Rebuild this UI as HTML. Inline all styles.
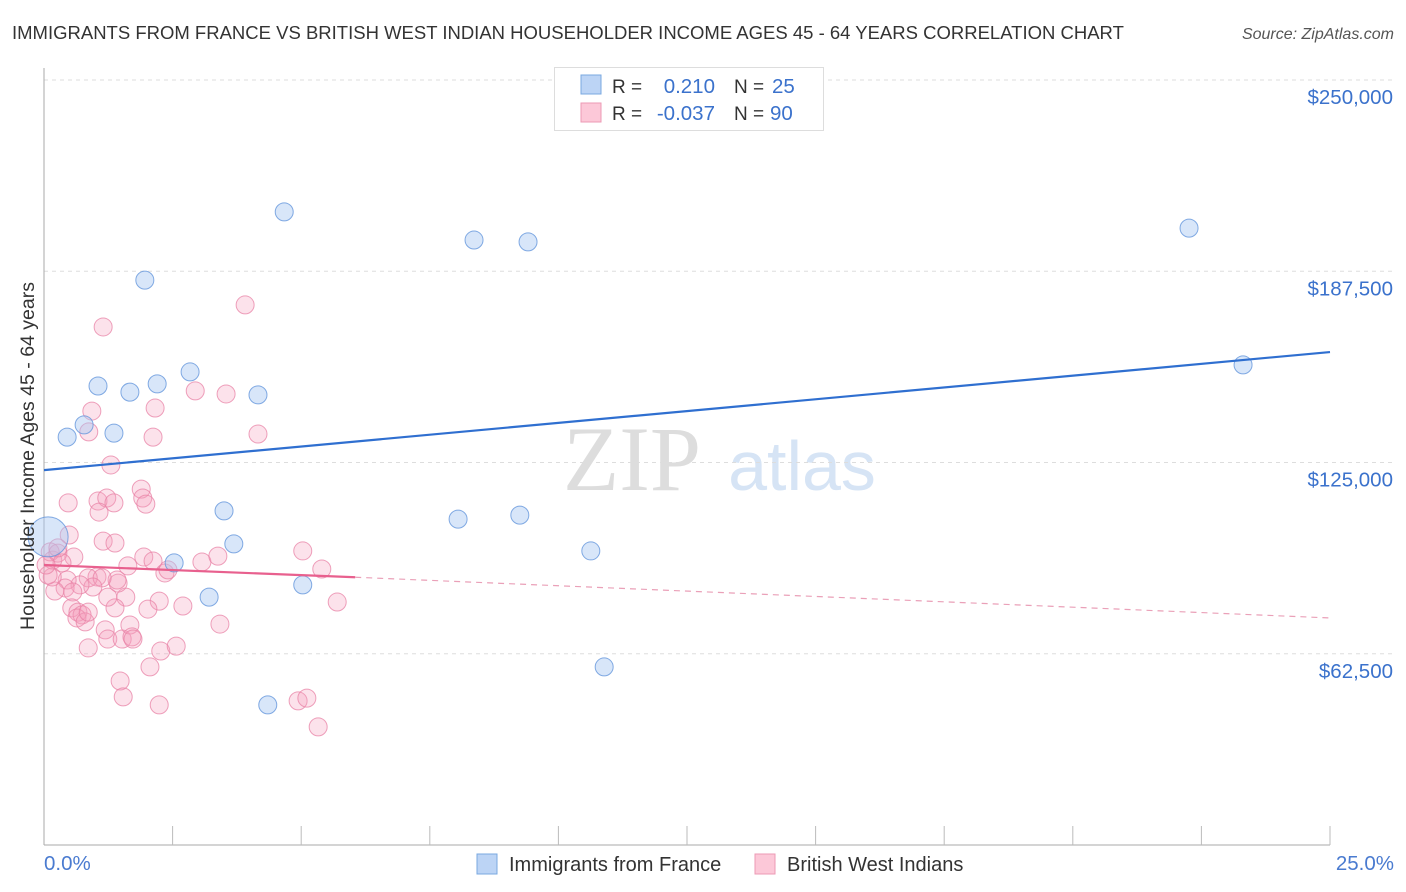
<!DOCTYPE html>
<html><head><meta charset="utf-8">
<style>
body{margin:0;background:#fff;font-family:"Liberation Sans",sans-serif;}
svg{display:block}
</style></head>
<body>
<svg id="chart" width="1406" height="892" viewBox="0 0 1406 892" xmlns="http://www.w3.org/2000/svg">
<text x="12" y="39" font-size="18.5" fill="#333">IMMIGRANTS FROM FRANCE VS BRITISH WEST INDIAN HOUSEHOLDER INCOME AGES 45 - 64 YEARS CORRELATION CHART</text>
<text x="1394" y="39" font-size="16" fill="#555" text-anchor="end" font-style="italic">Source: ZipAtlas.com</text>
<g>
<text x="632" y="490" font-size="92" fill="#ddd" text-anchor="middle" font-family="Liberation Serif,serif">ZIP</text>
<text x="802" y="490" font-size="70" fill="#d6e4f5" text-anchor="middle">atlas</text>
</g>
<g id="grid"></g>
<g id="axes"></g>
<g id="pts"></g>
<g id="trend"></g>
<text transform="translate(34,456) rotate(-90)" font-size="19.5" fill="#333" text-anchor="middle">Householder Income Ages 45 - 64 years</text>
<text x="44" y="870" font-size="20.5" fill="#4a7bd0">0.0%</text>
<text x="1394" y="870" font-size="20.5" fill="#4a7bd0" text-anchor="end">25.0%</text>
<g>
<rect x="554.5" y="67.5" width="269" height="63" fill="#fff" stroke="#ddd"/>
<rect x="581" y="75" width="20" height="19" fill="#bcd4f5" stroke="#7aa8e0"/>
<rect x="581" y="103" width="20" height="19" fill="#fcc8d8" stroke="#ec9ab4"/>
<text x="612" y="93" font-size="19" fill="#333">R =</text>
<text x="715" y="93" font-size="20.5" fill="#3b72cc" text-anchor="end">0.210</text>
<text x="734" y="93" font-size="19" fill="#333">N =</text>
<text x="772" y="93" font-size="20.5" fill="#3b72cc">25</text>
<text x="612" y="120" font-size="19" fill="#333">R =</text>
<text x="715" y="120" font-size="20.5" fill="#3b72cc" text-anchor="end">-0.037</text>
<text x="734" y="120" font-size="19" fill="#333">N =</text>
<text x="770" y="120" font-size="20.5" fill="#3b72cc">90</text>
</g>
<g>
<rect x="477" y="854" width="20" height="20" fill="#bcd4f5" stroke="#7aa8e0"/>
<text x="509" y="871" font-size="20" fill="#333">Immigrants from France</text>
<rect x="755" y="854" width="20" height="20" fill="#fcc8d8" stroke="#ec9ab4"/>
<text x="787" y="871" font-size="20" fill="#333">British West Indians</text>
</g>
</svg>
<script>
const yTicks=[62500,125000,187500,250000];
const yTickLabels=["$62,500","$125,000","$187,500","$250,000"];
const franceX=[4.67,8.36,9.41,22.26,1.96,2.84,1.05,2.20,1.67,4.16,23.31,0.78,0.45,1.36,3.50,8.05,9.25,3.69,2.53,10.63,5.03,3.21,10.89,4.35,0.08];
const franceY=[206900,197700,197100,201600,184600,154600,150000,150700,148000,147100,156900,137300,133300,134600,109200,106500,107800,98400,92200,96100,85000,81000,58200,45800,100700];
const bwiX=[0.47,1.05,1.22,1.36,1.07,1.89,1.92,1.98,0.49,1.15,1.38,0.58,1.94,2.12,1.63,2.35,2.41,3.07,3.38,5.03,5.40,5.70,3.42,2.70,2.24,2.02,1.59,1.38,1.24,1.44,1.42,1.03,0.86,1.13,0.95,0.70,0.45,0.41,0.21,0.16,0.17,0.12,0.27,0.35,0.56,0.54,0.66,0.74,0.64,0.80,0.86,1.19,1.24,1.52,1.67,1.71,1.73,0.86,2.27,2.57,2.06,1.48,1.54,2.24,4.94,5.11,5.33,1.15,3.91,0.93,2.16,0.87,2.12,4.16,3.54,2.94,1.30,0.08,0.27,0.04];
const bwiY=[111800,112400,113400,111800,108800,116300,113400,111400,101300,99300,98700,94100,94100,92800,91200,88900,89900,92500,94400,96100,90200,79400,72200,78100,79700,77100,81000,77500,81000,85600,86600,87600,87300,87300,84300,85000,86600,84000,83000,87600,93100,95800,95400,92200,82700,77500,76100,75200,74200,72900,76100,70300,67300,67300,71900,68000,67300,64400,63400,65000,58200,53600,48400,45800,47100,48000,38600,169300,176500,141800,142800,135000,133300,134300,147400,148400,124200,88200,97100,91500];
const franceTrend=[[0,122500],[25,161100]];
const bwiTrend=[[0,91500],[6.05,87500],[25,74200]];
const NS="http://www.w3.org/2000/svg";
const X=p=>44+p/25*1286;
const Y=v=>845-v/62500*191.25;
function mk(t,a,parent){const e=document.createElementNS(NS,t);for(const k in a)e.setAttribute(k,a[k]);parent.appendChild(e);return e;}
const grid=document.getElementById('grid'),axes=document.getElementById('axes');
yTicks.forEach((v,i)=>{
  const l=mk('line',{x1:44,x2:1393,y1:Y(v),y2:Y(v),stroke:'#ddd','stroke-dasharray':'4,4'},grid);
  
  
  const t=mk('text',{x:1393,y:Y(v)+24,'font-size':20.5,fill:'#3b72cc','text-anchor':'end'},axes);
  t.textContent=yTickLabels[i];
  
  
});
mk('line',{x1:44,x2:44,y1:68,y2:845,stroke:'#aaa'},axes);
mk('line',{x1:44,x2:1330,y1:845,y2:845,stroke:'#aaa'},axes);
for(let i=1;i<=10;i++){const t=mk('line',{x1:X(i*2.5),x2:X(i*2.5),y1:826,y2:845,stroke:'#bbb'},axes);
  
  }
const pts=document.getElementById('pts');
bwiX.forEach((x,i)=>{const c=mk('circle',{cx:X(x),cy:Y(bwiY[i]),r:9,fill:'rgba(246,160,188,0.3)',stroke:'rgba(232,130,165,0.75)','stroke-width':1},pts);
  
  });
franceX.forEach((x,i)=>{const c=mk('circle',{cx:X(x),cy:Y(franceY[i]),r:i===franceX.length-1?20:9,fill:'rgba(168,200,242,0.45)',stroke:'rgba(100,150,220,0.8)','stroke-width':1},pts);
  
  });
const tr=document.getElementById('trend');
const ft=mk('line',{x1:X(franceTrend[0][0]),y1:Y(franceTrend[0][1]),x2:X(franceTrend[1][0]),y2:Y(franceTrend[1][1]),stroke:'#2f6fd0','stroke-width':2.2},tr);


const bt=mk('line',{x1:X(bwiTrend[0][0]),y1:Y(bwiTrend[0][1]),x2:X(bwiTrend[1][0]),y2:Y(bwiTrend[1][1]),stroke:'#e8608e','stroke-width':2.2},tr);


const bd=mk('line',{x1:X(bwiTrend[1][0]),y1:Y(bwiTrend[1][1]),x2:X(bwiTrend[2][0]),y2:Y(bwiTrend[2][1]),stroke:'#eaa0b8','stroke-width':1.2,'stroke-dasharray':'6,5'},tr);


</script>
</body></html>
